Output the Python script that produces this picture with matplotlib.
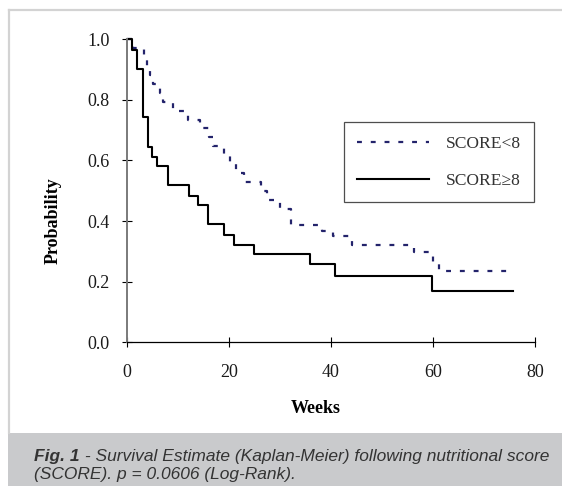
import matplotlib
matplotlib.use("Agg")
import matplotlib.pyplot as plt
from matplotlib.patches import Rectangle
from matplotlib.lines import Line2D

# Kaplan-Meier step data (weeks, survival probability)
weeks_lo = [0, 1.2, 3.4, 4.0, 4.5, 5.2, 6.5, 7.2, 9.0, 12.0, 14.3, 16.1, 17.0,
            19.0, 20.2, 21.4, 23.0, 26.3, 27.5, 30.0, 32.1, 38.3, 40.4, 44.1,
            56.2, 60.1, 61.2, 75.8]
prob_lo = [1.0, 0.971, 0.941, 0.912, 0.882, 0.853, 0.824, 0.794, 0.765, 0.735,
           0.706, 0.676, 0.647, 0.618, 0.588, 0.559, 0.529, 0.50, 0.471, 0.441,
           0.387, 0.367, 0.352, 0.322, 0.298, 0.26, 0.236, 0.236]

weeks_hi = [0, 1.0, 2.0, 3.1, 4.25, 4.9, 5.9, 8.0, 12.2, 13.9, 15.9, 19.0, 21.1,
            24.9, 36.0, 40.8, 59.9, 75.7]
prob_hi = [1.0, 0.965, 0.901, 0.744, 0.646, 0.613, 0.583, 0.519, 0.484, 0.453,
           0.39, 0.355, 0.32, 0.291, 0.257, 0.22, 0.17, 0.17]

labels = ["SCORE<8", "SCORE\u22658"]
x_ticks = [0, 20, 40, 60, 80]
y_ticks = [0.0, 0.2, 0.4, 0.6, 0.8, 1.0]

W, H = 562, 486
fig = plt.figure(figsize=(W / 100, H / 100), dpi=100)
fig.patch.set_facecolor("white")

serif = "Liberation Serif"
navy = "#23236b"

# frame and caption band
fig.add_artist(Line2D([9 / W, 9 / W], [1 - 10 / H, 53 / H], color="#d3d3d3", lw=1.6))
fig.add_artist(Line2D([9 / W, 1], [1 - 10.5 / H, 1 - 10.5 / H], color="#d3d3d3", lw=1.6))
fig.add_artist(Rectangle((8 / W, 0), 1, 53 / H, transform=fig.transFigure,
                         facecolor="#c9cacc", edgecolor="none"))

ax = fig.add_axes([126.7 / W, 1 - 342.3 / H, 408.3 / W, 303 / H])
ax.step(weeks_lo, prob_lo, where="post", color=navy, lw=1.6,
        linestyle=(0, (2.2, 4.0)), clip_on=False, label=labels[0])
ax.step(weeks_hi, prob_hi, where="post", color="black", lw=1.5,
        clip_on=False, label=labels[1])

ax.set_xlim(0, 80)
ax.set_ylim(0, 1.0)
ax.set_xticks(x_ticks)
ax.set_yticks(y_ticks)
ax.set_yticklabels([f"{v:.1f}" for v in y_ticks])
for s in ["top", "right"]:
    ax.spines[s].set_visible(False)
ax.spines["left"].set_color("#7a7a7a")
ax.spines["left"].set_linewidth(1.4)
ax.spines["bottom"].set_color("black")
ax.spines["bottom"].set_linewidth(0.9)
ax.tick_params(direction="inout", length=7, width=0.8, color="black")
ax.tick_params(axis="y", pad=9)
ax.tick_params(axis="x", pad=12)
for t in ax.get_xticklabels() + ax.get_yticklabels():
    t.set_fontfamily(serif)
    t.set_fontsize(13)
    t.set_color("#1a1a1a")

ax.set_xlabel("Weeks", fontfamily=serif, fontsize=13, fontweight="bold")
ax.set_ylabel("Probability", fontfamily=serif, fontsize=13, fontweight="bold")
ax.xaxis.set_label_coords((316 - 126.7) / 408.3, (342.3 - 408.3) / 303)
ax.xaxis.label.set_verticalalignment("center")
ax.yaxis.set_label_coords((53 - 126.7) / 408.3, (342.3 - 221) / 303)
ax.yaxis.label.set_verticalalignment("center")

leg = ax.legend(loc="upper left", bbox_to_anchor=((344 - 126.7) / 408.3, (342.3 - 122.3) / 303),
                borderaxespad=0, fancybox=False, frameon=True, handlelength=4.1,
                handletextpad=0.95, labelspacing=1.2, borderpad=0.75,
                prop={"family": serif, "size": 12.6})
leg.get_frame().set_edgecolor("#222222")
leg.get_frame().set_linewidth(0.9)
for t in leg.get_texts():
    t.set_color("#333333")

# caption
cap_color = "#333333"
cap_size = 12.5
t1 = fig.text(34 / W, 1 - 456.5 / H, "Fig. 1", fontfamily="Liberation Sans",
              fontsize=cap_size, fontstyle="italic", fontweight="bold", color=cap_color, va="center")
fig.canvas.draw()
bb = t1.get_window_extent()
fig.text(bb.x1 / W, 1 - 456.5 / H,
         " - Survival Estimate (Kaplan-Meier) following nutritional score",
         fontfamily="Liberation Sans", fontsize=cap_size, fontstyle="italic",
         color=cap_color, va="center")
fig.text(34 / W, 1 - 474.5 / H, "(SCORE). p = 0.0606 (Log-Rank).",
         fontfamily="Liberation Sans", fontsize=cap_size, fontstyle="italic",
         color=cap_color, va="center")

fig.savefig("out.png", dpi=100)
